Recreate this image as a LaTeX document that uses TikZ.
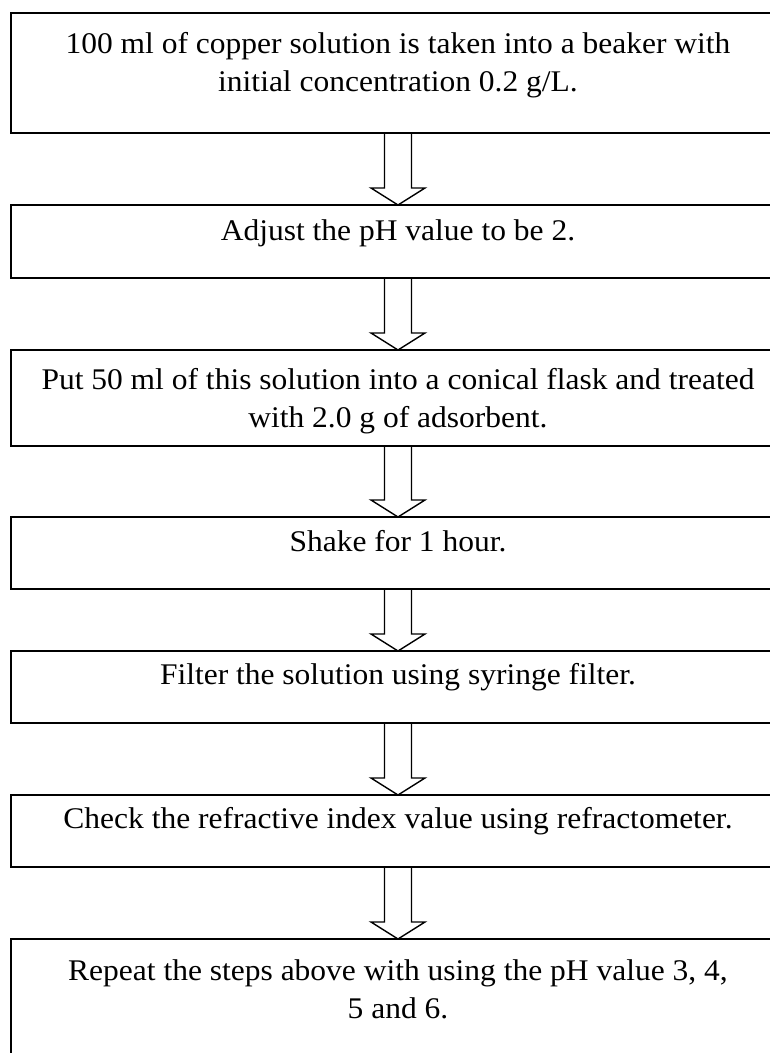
\documentclass[tikz,border=0pt]{standalone}
\usepackage{fontspec}
\setmainfont{Liberation Serif}[FakeStretch=1.05]
\usetikzlibrary{calc}
\tikzset{
  stepbox/.style={draw, line width=1.6pt, minimum width=774pt, inner sep=0pt, outer sep=0pt},
  steptext/.style={anchor=north, align=center, inner sep=0pt, outer sep=0pt,
                   font=\fontsize{30}{38}\selectfont},
  hollow/.style={draw, line width=1.4pt, line join=miter}
}
% fixed-height strut so every text block starts at the same ascent
\newcommand\topstrut{\rule{0pt}{24pt}}
% open block arrow from the bottom of one box to the top of the next
\newcommand\fatdown[2]{%
  \draw[hollow] ($(#1.south)+(-13.5,0)$) -- ($(#2.north)+(-13.5,-17)$)
    -- ($(#2.north)+(-27,-17)$) -- (#2.north) -- ($(#2.north)+(27,-17)$)
    -- ($(#2.north)+(13.5,-17)$) -- ($(#1.south)+(13.5,0)$);}
\begin{document}
\begin{tikzpicture}[x=1pt,y=-1pt]
\useasboundingbox (0,0) rectangle (770,1053);
\clip (0,0) rectangle (770,1053);

% process steps
\node[stepbox, minimum height=120pt] (b1) at (398,73) {};
\node[stepbox, minimum height=73pt]  (b2) at (398,241.5) {};
\node[stepbox, minimum height=96pt]  (b3) at (398,398) {};
\node[stepbox, minimum height=72pt]  (b4) at (398,553) {};
\node[stepbox, minimum height=72pt]  (b5) at (398,687) {};
\node[stepbox, minimum height=72pt]  (b6) at (398,831) {};
\node[stepbox, minimum height=126pt] (b7) at (398,1002) {};

% step descriptions
\node[steptext] (t1) at ($(b1.north)+(0,16)$) {\topstrut 100 ml of copper solution is taken into a beaker with\\initial concentration 0.2 g/L.};
\node[steptext] (t2) at ($(b2.north)+(0,11)$) {\topstrut Adjust the pH value to be 2.};
\node[steptext] (t3) at ($(b3.north)+(0,15)$) {\topstrut Put 50 ml of this solution into a conical flask and treated\\with 2.0 g of adsorbent.};
\node[steptext] (t4) at ($(b4.north)+(0,10)$) {\topstrut Shake for 1 hour.};
\node[steptext] (t5) at ($(b5.north)+(0,9)$)  {\topstrut Filter the solution using syringe filter.};
\node[steptext] (t6) at ($(b6.north)+(0,9)$)  {\topstrut Check the refractive index value using refractometer.};
\node[steptext] (t7) at ($(b7.north)+(0,17)$) {\topstrut Repeat the steps above with using the pH value 3, 4,\\5 and 6.};

% flow arrows
\fatdown{b1}{b2}
\fatdown{b2}{b3}
\fatdown{b3}{b4}
\fatdown{b4}{b5}
\fatdown{b5}{b6}
\fatdown{b6}{b7}
\end{tikzpicture}
\end{document}
